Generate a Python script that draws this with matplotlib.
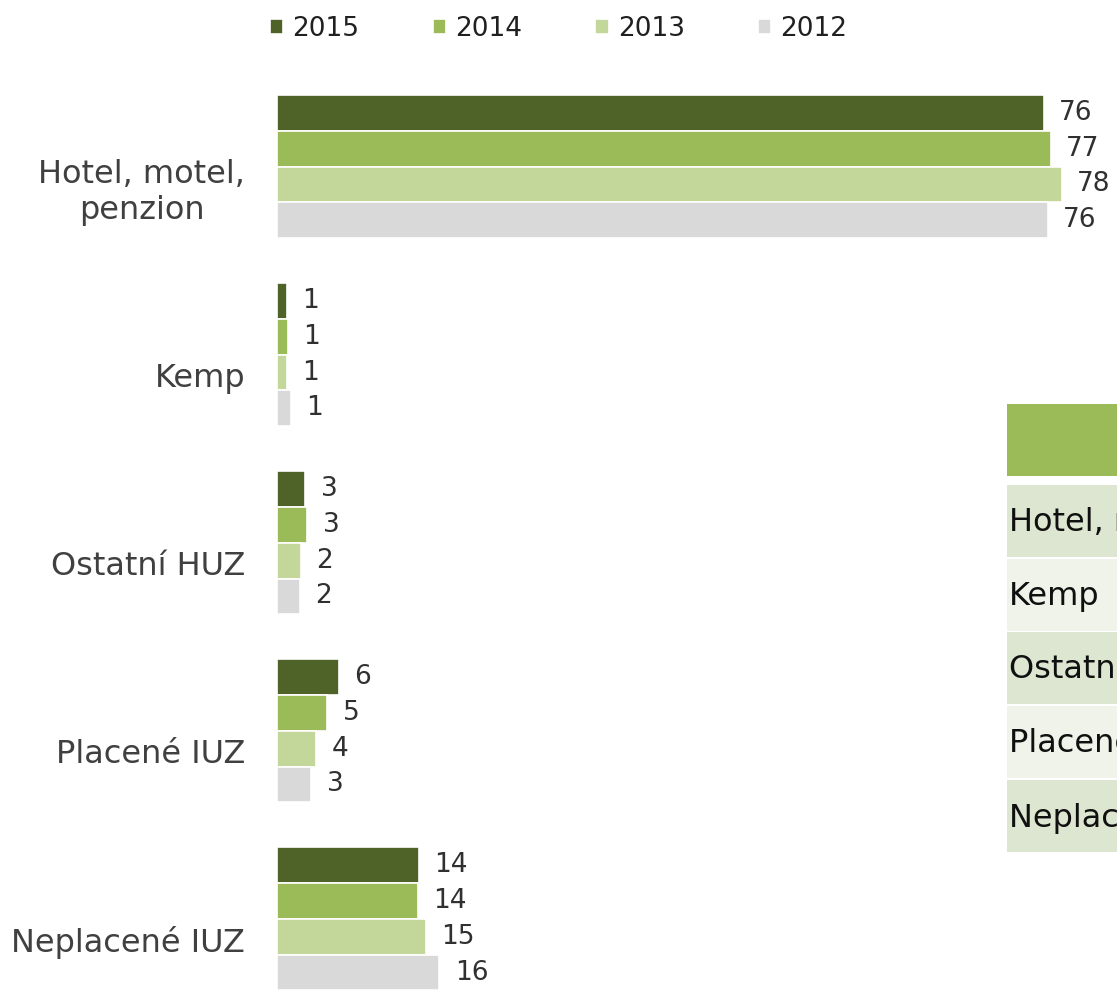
import numpy as np
import matplotlib
matplotlib.use("Agg")
import matplotlib.pyplot as plt
from matplotlib.patches import Rectangle
from matplotlib.transforms import ScaledTranslation

categories = ["Hotel, motel,\npenzion", "Kemp", "Ostatní HUZ", "Placené IUZ", "Neplacené IUZ"]
table_rows = ["Hotel, motel, penzion", "Kemp", "Ostatní HUZ", "Placené IUZ", "Neplacené IUZ"]
years = ["2015", "2014", "2013", "2012"]
values_2015 = [76.0, 1.0, 2.8, 6.1, 14.1]
values_2014 = [76.7, 1.1, 3.0, 5.0, 14.0]
values_2013 = [77.8, 1.0, 2.4, 3.9, 14.8]
values_2012 = [76.4, 1.4, 2.3, 3.4, 16.1]

series = [values_2015, values_2014, values_2013, values_2012]
colors = ["#4F6228", "#9BBB59", "#C4D79B", "#D9D9D9"]
text_color = "#404040"

plt.rcParams["font.family"] = ["DejaVu Sans"]

fig = plt.figure(figsize=(11.17, 9.9), dpi=100)
ax = fig.add_axes([277 / 1117, 0.0, 1 - 277 / 1117, 1.0])

y = np.arange(len(categories))
step = 0.19
offsets = [-1.5 * step, -0.5 * step, 0.5 * step, 1.5 * step]

for vals, color, year, off in zip(series, colors, years, offsets):
    bars = ax.barh(y + off, vals, height=step, color=color, edgecolor="white",
                   linewidth=1.2, label=year)
    for bar, v in zip(bars, vals):
        ax.annotate(f"{v:.0f}", (bar.get_width(), bar.get_y() + bar.get_height() / 2),
                    xytext=(11, 0), textcoords="offset points",
                    ha="left", va="center", fontsize=19, color="#303030")

ax.set_ylim(4.378, -0.886)
ax.set_xlim(0, 83.25)
ax.set_yticks(y)
ax.set_yticklabels(categories, fontsize=23, color=text_color, multialignment="center",
                   linespacing=1.2)
ax.tick_params(axis="y", length=0, pad=23)
ax.set_xticks([])
for s in ax.spines.values():
    s.set_visible(False)

# category labels sit a little below the group centre
shift = ScaledTranslation(0, -0.2, fig.dpi_scale_trans)
for lbl in ax.get_yticklabels():
    lbl.set_transform(lbl.get_transform() + shift)

fig.legend(loc="upper left", bbox_to_anchor=(246 / 1117, 1 + 8 / 990), ncol=4,
           frameon=False, fontsize=19, handlelength=0.5, handleheight=0.5,
           handletextpad=0.35, columnspacing=2.78, labelcolor="#202020")

# partly visible table on the right
W, H = 1117, 990
left = 1007
fig.add_artist(Rectangle((left / W, 1 - 476 / H), 200 / W, 72 / H,
                         transform=fig.transFigure, facecolor="#9BBB59", edgecolor="none"))
row_tops = [485, 559, 632, 706, 780]
row_colors = ["#DDE6D0", "#EFF3EA", "#DDE6D0", "#EFF3EA", "#DDE6D0"]
for name, top, rc in zip(table_rows, row_tops, row_colors):
    fig.add_artist(Rectangle((left / W, 1 - (top + 72) / H), 200 / W, 72 / H,
                             transform=fig.transFigure, facecolor=rc, edgecolor="none"))
    fig.text((left + 2) / W, 1 - (top + 38) / H, name, fontsize=23, color="#101010",
             ha="left", va="center")

fig.savefig("out.png", dpi=100)
